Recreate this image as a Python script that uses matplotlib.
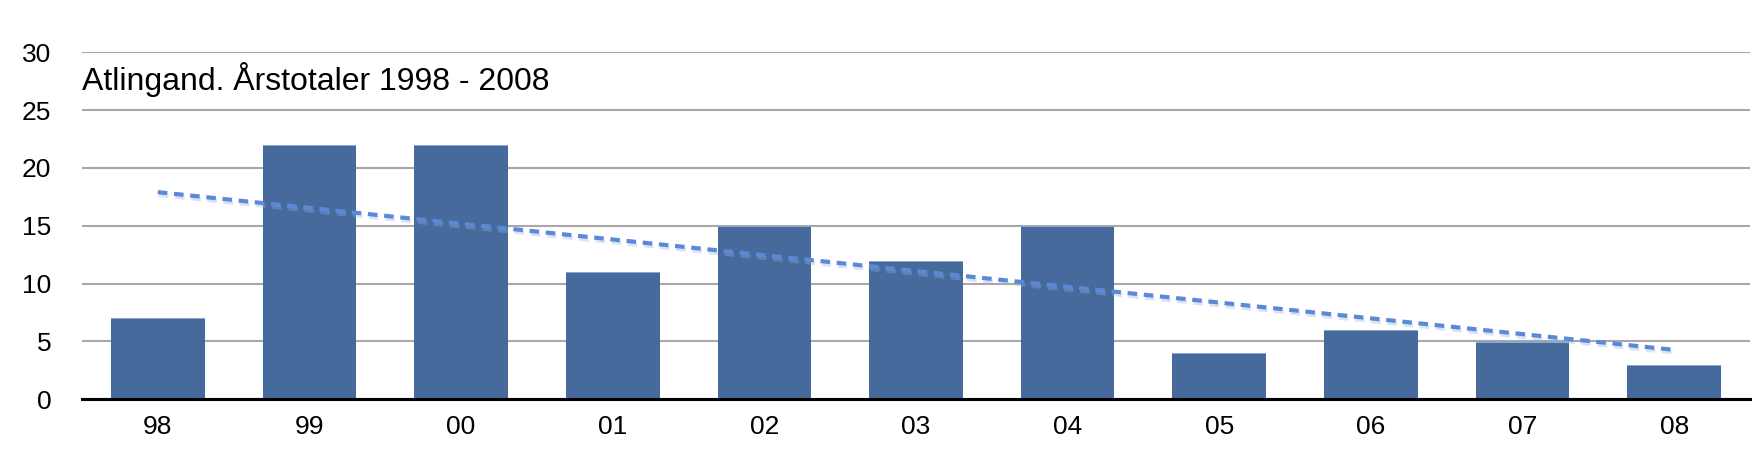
import numpy as np
import matplotlib
matplotlib.use("Agg")
import matplotlib.pyplot as plt
import matplotlib.patheffects as pe

categories = ["98", "99", "00", "01", "02", "03", "04", "05", "06", "07", "08"]
values = [7, 22, 22, 11, 15, 12, 15, 4, 6, 5, 3]
yticks = [0, 5, 10, 15, 20, 25, 30]
title = "Atlingand. Årstotaler 1998 - 2008"

plt.rcParams['font.family'] = ['Liberation Sans', 'DejaVu Sans']

W, H = 1752, 467
fig = plt.figure(figsize=(W / 100, H / 100), dpi=100)
left, right, top, bottom = 82, 1750, 52.3, 399.3
ax = fig.add_axes([left / W, 1 - bottom / H, (right - left) / W, (bottom - top) / H])

x = np.arange(len(categories))
ax.bar(x, values, width=0.618, color="#466a9b", edgecolor="none", zorder=3)
ax.bar(x, [0.1] * len(values), bottom=np.array(values) - 0.1, width=0.618,
       color="#8aa6cc", edgecolor="none", zorder=3.1)

# linear trend line
coef = np.polyfit(x, values, 1)
trend = np.polyval(coef, x)
ax.plot(x, trend, color="#5a8ad6", lw=3.0, linestyle=(0, (2.3, 1.6)),
        dash_capstyle="butt", zorder=5,
        path_effects=[pe.SimpleLineShadow(offset=(0.8, -2.0), shadow_color="#8fb2e2", alpha=0.35),
                      pe.Normal()])

ax.set_xlim(-0.5, len(categories) - 0.5)
ax.set_ylim(0, 30)
ax.set_yticks(yticks)
ax.set_yticklabels([str(t) for t in yticks])
ax.set_xticks(x)
ax.set_xticklabels(categories)
ax.grid(axis="y", color="#a8a8a8", lw=1.5, zorder=0)
ax.set_axisbelow(True)
for s in ["top", "right", "left"]:
    ax.spines[s].set_visible(False)
ax.spines["bottom"].set_color("black")
ax.spines["bottom"].set_linewidth(2.2)
ax.spines["bottom"].set_zorder(6)
ax.tick_params(axis="both", length=0, labelsize=19, colors="black")
ax.tick_params(axis="y", pad=22)
ax.tick_params(axis="x", pad=11)

fig.text(left / W, 1 - 90 / H, title, fontsize=23, ha="left", va="baseline", color="black")

fig.savefig("out.png", dpi=100)
